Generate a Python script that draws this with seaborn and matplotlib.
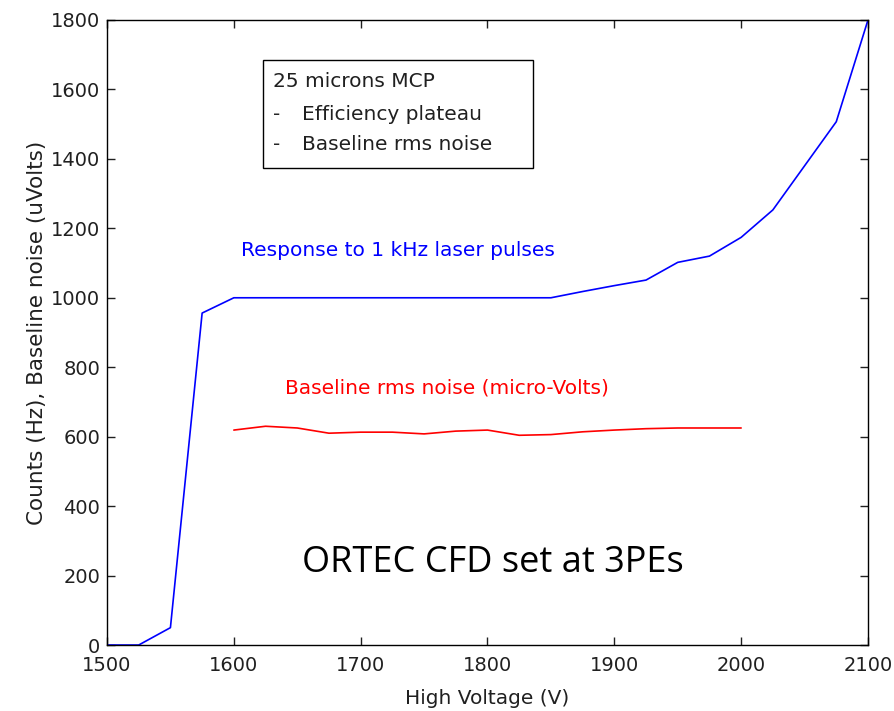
import matplotlib
matplotlib.use('Agg')
import matplotlib.pyplot as plt
import seaborn as sns
import pandas as pd
from matplotlib.patches import Rectangle

# 고전압에 따른 카운트 (1 kHz 레이저 펄스 응답)
volt_resp = [1500, 1525, 1550, 1575, 1600, 1625, 1650, 1675, 1700, 1725, 1750,
             1775, 1800, 1825, 1850, 1875, 1900, 1925, 1950, 1975, 2000, 2025,
             2050, 2075, 2100]
counts = [0, 0, 50, 956, 1000, 1000, 1000, 1000, 1000, 1000, 1000,
          1000, 1000, 1000, 1000, 1018, 1035, 1051, 1102, 1120, 1174, 1253,
          1380, 1507, 1800]

# 베이스라인 rms 노이즈 (micro-Volts)
volt_noise = [1600, 1625, 1650, 1675, 1700, 1725, 1750, 1775, 1800, 1825,
              1850, 1875, 1900, 1925, 1950, 1975, 2000]
noise = [619, 630, 625, 610, 613, 613, 608, 616, 619, 604,
         606, 614, 619, 623, 625, 625, 625]

resp_df = pd.DataFrame({'HV': volt_resp, 'val': counts})
noise_df = pd.DataFrame({'HV': volt_noise, 'val': noise})

sns.set_style('ticks')
plt.rcParams['font.family'] = ['DejaVu Sans']

fig = plt.figure(figsize=(8.94, 7.11), dpi=100)
ax = fig.add_axes([0.1197, 0.0928, 0.8512, 0.8791])

sns.lineplot(data=resp_df, x='HV', y='val', color='#0000ff', linewidth=1.2, ax=ax)
sns.lineplot(data=noise_df, x='HV', y='val', color='#ff0000', linewidth=1.2, ax=ax)

ax.set_xlim(1500, 2100)
ax.set_ylim(0, 1800)
ax.set_xticks(range(1500, 2101, 100))
ax.set_yticks(range(0, 1801, 200))
ax.tick_params(direction='in', length=6, width=1, top=True, right=True,
               labelsize=14, colors='#202020')
ax.tick_params(axis='x', pad=8)
ax.tick_params(axis='y', pad=5)
for s in ax.spines.values():
    s.set_visible(True)
    s.set_linewidth(1)
    s.set_color('black')

ax.set_xlabel('High Voltage (V)', fontsize=14.5, labelpad=10, color='#202020')
ax.set_ylabel('Counts (Hz), Baseline noise (uVolts)', fontsize=15.5, labelpad=3,
              color='#202020')

# 주석 텍스트
ax.text(1606, 1135, 'Response to 1 kHz laser pulses', color='#0000ff',
        fontsize=14.5, va='center', ha='left')
ax.text(1640, 740, 'Baseline rms noise (micro-Volts)', color='#ff0000',
        fontsize=14.5, va='center', ha='left')
ax.text(1654, 236, 'ORTEC CFD set at 3PEs', color='black',
        fontsize=26, va='center', ha='left', family=['Open Sans', 'DejaVu Sans'])

# 범례 박스
ax.add_patch(Rectangle((0.2046, 0.763), 0.3552, 0.173, transform=ax.transAxes,
                       fill=False, edgecolor='black', linewidth=1))
ax.text(0.218, 0.901, '25 microns MCP', transform=ax.transAxes, fontsize=14.5,
        va='center', color='#202020')
ax.text(0.218, 0.848, '-', transform=ax.transAxes, fontsize=14.5, va='center')
ax.text(0.256, 0.848, 'Efficiency plateau', transform=ax.transAxes, fontsize=14.5,
        va='center', color='#202020')
ax.text(0.218, 0.800, '-', transform=ax.transAxes, fontsize=14.5, va='center')
ax.text(0.256, 0.800, 'Baseline rms noise', transform=ax.transAxes, fontsize=14.5,
        va='center', color='#202020')

fig.savefig('out.png', dpi=100)
